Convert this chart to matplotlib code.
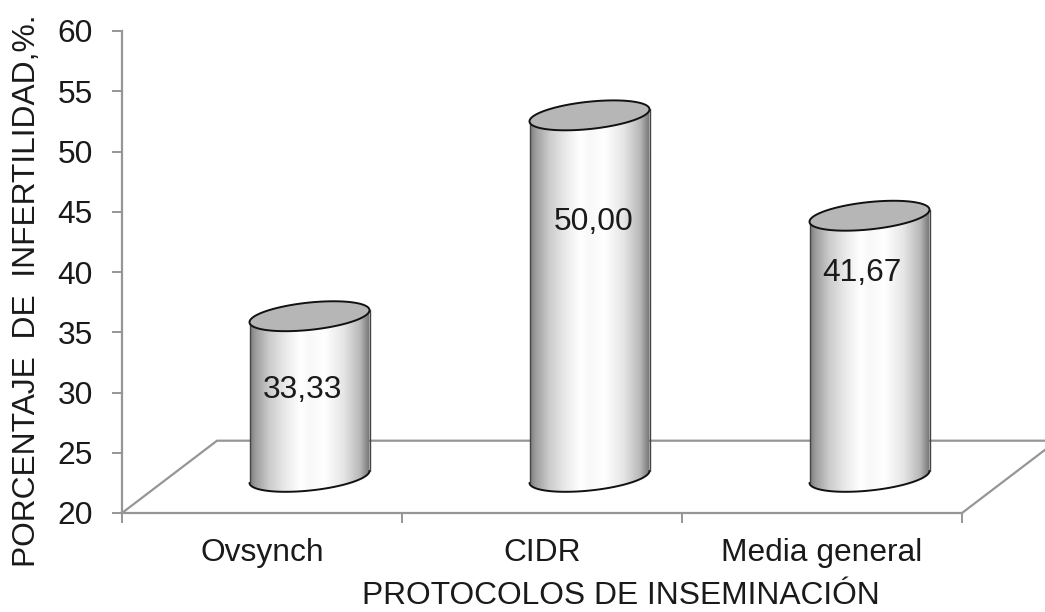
import numpy as np
import matplotlib
matplotlib.use("Agg")
import matplotlib.pyplot as plt
from matplotlib.path import Path
from matplotlib.patches import PathPatch
from matplotlib.colors import LinearSegmentedColormap

categories = ["Ovsynch", "CIDR", "Media general"]
values = [33.33, 50.00, 41.67]
labels = ["33,33", "50,00", "41,67"]
yticks = [20, 25, 30, 35, 40, 45, 50, 55, 60]
label_offsets_px = [(40, -38), (52, -70), (40, -21)]

W, H = 1045, 612
FS = 22.9
INK = "#1a1a1a"
plt.rcParams['font.family'] = ['Liberation Sans', 'DejaVu Sans']
plt.rcParams['text.color'] = INK
plt.rcParams['axes.labelcolor'] = INK
plt.rcParams['xtick.labelcolor'] = INK
plt.rcParams['ytick.labelcolor'] = INK
fig = plt.figure(figsize=(W / 100, H / 100), dpi=100)
L, R, T, B = 122, 962, 31, 513
ax = fig.add_axes([L / W, 1 - B / H, (R - L) / W, (B - T) / H])
ax.set_xlim(-0.5, 2.5)
ax.set_ylim(20, 60)
px_x = (R - L) / 3
px_y = (B - T) / 40

grey = "#969696"
depth_x, depth_y = 95 / px_x, 6.0   # full depth of the 3-D floor
half_w = 60 / px_x
s = 6 / px_y       # tilt of the ellipse
b = 13.7 / px_y

# floor
ax.plot([-0.5, -0.5 + depth_x, 2.5 + depth_x], [20, 20 + depth_y, 20 + depth_y],
        color=grey, lw=1.6, clip_on=False, zorder=1, solid_joinstyle='miter')
ax.plot([2.5, 2.5 + depth_x], [20, 20 + depth_y], color=grey, lw=1.6, clip_on=False, zorder=1)

cmap = LinearSegmentedColormap.from_list("cyl", [
    (0.00, "#7e7e7e"), (0.05, "#a0a0a0"), (0.16, "#cbcbcb"), (0.30, "#ebebeb"),
    (0.42, "#ffffff"), (0.50, "#f8f8f8"), (0.62, "#ffffff"), (0.78, "#e6e6e6"),
    (0.92, "#b8b8b8"), (1.00, "#727272")])
grad = np.linspace(0, 1, 256)[None, :]

t = np.linspace(0, 2 * np.pi, 181)
for i, v in enumerate(values):
    cx = i + depth_x / 2
    top = v + depth_y / 2
    bot = 20 + depth_y / 2
    ex = cx + half_w * np.cos(t)
    ey = b * np.sin(t) + s * np.cos(t)
    tb = np.linspace(np.pi, 2 * np.pi, 91)
    bx = cx + half_w * np.cos(tb)
    by = bot + b * np.sin(tb) + s * np.cos(tb)
    tt = np.linspace(0, np.pi, 91)
    ux = cx + half_w * np.cos(tt)
    uy = top + b * np.sin(tt) + s * np.cos(tt)
    verts = np.vstack([np.column_stack([bx, by]), np.column_stack([ux, uy]), [[bx[0], by[0]]]])
    body = PathPatch(Path(verts, closed=False), transform=ax.transData, fc='none', ec='none')
    ax.add_patch(body)
    im = ax.imshow(grad, extent=[cx - half_w, cx + half_w, bot - 5, top + 5], aspect='auto',
                   cmap=cmap, vmin=0, vmax=1, zorder=2, interpolation='bilinear')
    im.set_clip_path(body)
    ax.plot(bx, by, color="#111111", lw=1.4, zorder=3, clip_on=False, solid_capstyle='round')
    ax.plot([bx[0], bx[0]], [by[0], top - s], color="#444444", lw=1.0, zorder=3, clip_on=False,
            solid_capstyle='round')
    ax.plot([bx[-1], bx[-1]], [by[-1], top + s], color="#444444", lw=1.0, zorder=3, clip_on=False,
            solid_capstyle='round')
    ax.fill(ex, top + ey, fc="#b6b6b6", ec="#111111", lw=1.4, zorder=4, clip_on=False)
    dx, dy = label_offsets_px[i]
    ax.annotate(labels[i], xy=(i, v), xytext=(dx * 0.72, dy * 0.72), textcoords='offset points',
                ha='center', va='center', fontsize=FS, zorder=5)

ax.set_xlim(-0.5, 2.5)
ax.set_ylim(20, 60)

for sp in ('top', 'right'):
    ax.spines[sp].set_visible(False)
for sp in ('left', 'bottom'):
    ax.spines[sp].set_color(grey)
    ax.spines[sp].set_linewidth(1.6)

ax.set_yticks(yticks)
ax.set_xticks([-0.5, 0.5, 1.5, 2.5])
ax.set_xticklabels([])
ax.set_xticks(range(len(categories)), categories, minor=True)
ax.tick_params(axis='both', which='major', color=grey, width=1.4, length=7.5, labelsize=FS, pad=13.5)
ax.tick_params(axis='x', which='minor', length=0, labelsize=FS, pad=18)
ax.set_xlabel("PROTOCOLOS DE INSEMINACIÓN", fontsize=FS, x=(621 - L) / (R - L), labelpad=9)
fig.text(27 / W, 1 - 291 / H, "PORCENTAJE  DE  INFERTILIDAD,%.", rotation=90,
         ha='center', va='center', fontsize=FS)

fig.savefig("out.png", dpi=100)
